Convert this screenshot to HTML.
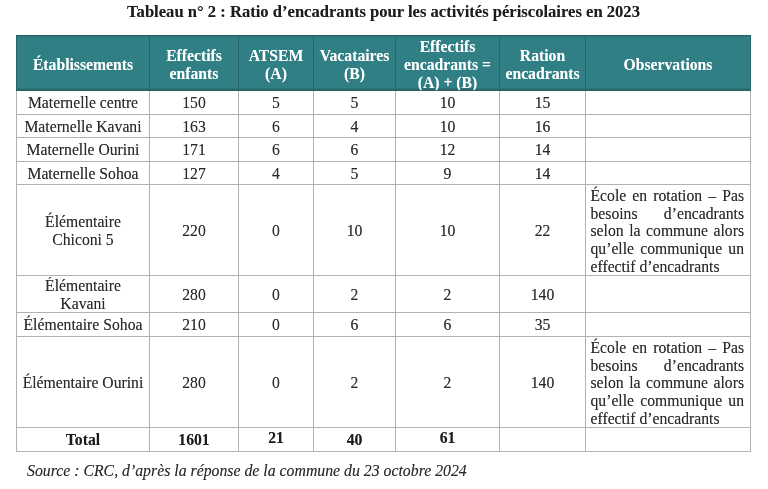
<!DOCTYPE html>
<html lang="fr">
<head>
<meta charset="utf-8">
<title>Tableau n° 2</title>
<style>
html,body{margin:0;padding:0;background:#fff;}
body{width:768px;height:489px;position:relative;overflow:hidden;font-family:"Liberation Serif","Times New Roman",serif;color:#2a2a2a;text-shadow:0 0 0.6px rgba(42,42,42,.45);}
h1{position:absolute;left:0;top:1.5px;width:767px;margin:0;text-align:center;font-size:16.6px;line-height:20px;font-weight:bold;color:#1c1c1c;white-space:nowrap;}
table{position:absolute;left:16px;top:35px;width:735px;border-collapse:collapse;table-layout:fixed;font-size:15.7px;line-height:18px;}
td,th{border:1px solid #b2b2b2;padding:0;text-align:center;vertical-align:middle;overflow:hidden;}
th{text-shadow:0 0 0.6px rgba(255,255,255,.45);background:linear-gradient(to top,#2c666a 0,#2c666a 1.5px,#2f7f84 1.5px);color:#fff;font-weight:bold;border-color:#266469;line-height:18px;}
thead tr{height:55px;}
td{position:relative;top:1px;}
th div{position:relative;top:1.5px;}
tr.s{height:23.5px;}
tr.b{height:90.5px;}
tr.b2{height:91.5px;}
tr.m{height:37.5px;}
td.o{text-align:justify;padding:0 6px 0 4.5px;line-height:17.8px;}
td.o span{display:block;position:relative;top:0.5px;text-align:justify;text-align-last:justify;}
td.o span.l{text-align-last:left;}
tr.t td{font-weight:bold;color:#1c1c1c;}
tr.t td.u{top:-1px;}
p{position:absolute;left:27px;top:460.5px;margin:0;font-size:15.8px;line-height:20px;font-style:italic;white-space:nowrap;color:#2a2a2a;}
</style>
</head>
<body>
<h1>Tableau n° 2 : Ratio d’encadrants pour les activités périscolaires en 2023</h1>
<table>
<colgroup><col style="width:133px"><col style="width:89px"><col style="width:75px"><col style="width:82px"><col style="width:104px"><col style="width:86px"><col style="width:165px"></colgroup>
<thead>
<tr><th><div>Établissements</div></th><th><div>Effectifs<br>enfants</div></th><th><div>ATSEM<br>(A)</div></th><th><div>Vacataires<br>(B)</div></th><th><div>Effectifs<br>encadrants =<br>(A) + (B)</div></th><th><div>Ration<br>encadrants</div></th><th><div>Observations</div></th></tr>
</thead>
<tbody>
<tr class="s"><td>Maternelle centre</td><td>150</td><td>5</td><td>5</td><td>10</td><td>15</td><td></td></tr>
<tr class="s"><td>Maternelle Kavani</td><td>163</td><td>6</td><td>4</td><td>10</td><td>16</td><td></td></tr>
<tr class="s"><td>Maternelle Ourini</td><td>171</td><td>6</td><td>6</td><td>12</td><td>14</td><td></td></tr>
<tr class="s"><td>Maternelle Sohoa</td><td>127</td><td>4</td><td>5</td><td>9</td><td>14</td><td></td></tr>
<tr class="b"><td>Élémentaire<br>Chiconi 5</td><td>220</td><td>0</td><td>10</td><td>10</td><td>22</td><td class="o"><span>École en rotation – Pas</span><span>besoins d’encadrants</span><span>selon la commune alors</span><span>qu’elle communique un</span><span class="l">effectif d’encadrants</span></td></tr>
<tr class="m"><td>Élémentaire<br>Kavani</td><td>280</td><td>0</td><td>2</td><td>2</td><td>140</td><td></td></tr>
<tr class="s"><td>Élémentaire Sohoa</td><td>210</td><td>0</td><td>6</td><td>6</td><td>35</td><td></td></tr>
<tr class="b2"><td>Élémentaire Ourini</td><td>280</td><td>0</td><td>2</td><td>2</td><td>140</td><td class="o"><span>École en rotation – Pas</span><span>besoins d’encadrants</span><span>selon la commune alors</span><span>qu’elle communique un</span><span class="l">effectif d’encadrants</span></td></tr>
<tr class="s t"><td>Total</td><td>1601</td><td class="u">21</td><td>40</td><td class="u">61</td><td></td><td></td></tr>
</tbody>
</table>
<p>Source : CRC, d’après la réponse de la commune du 23 octobre 2024</p>
</body>
</html>
